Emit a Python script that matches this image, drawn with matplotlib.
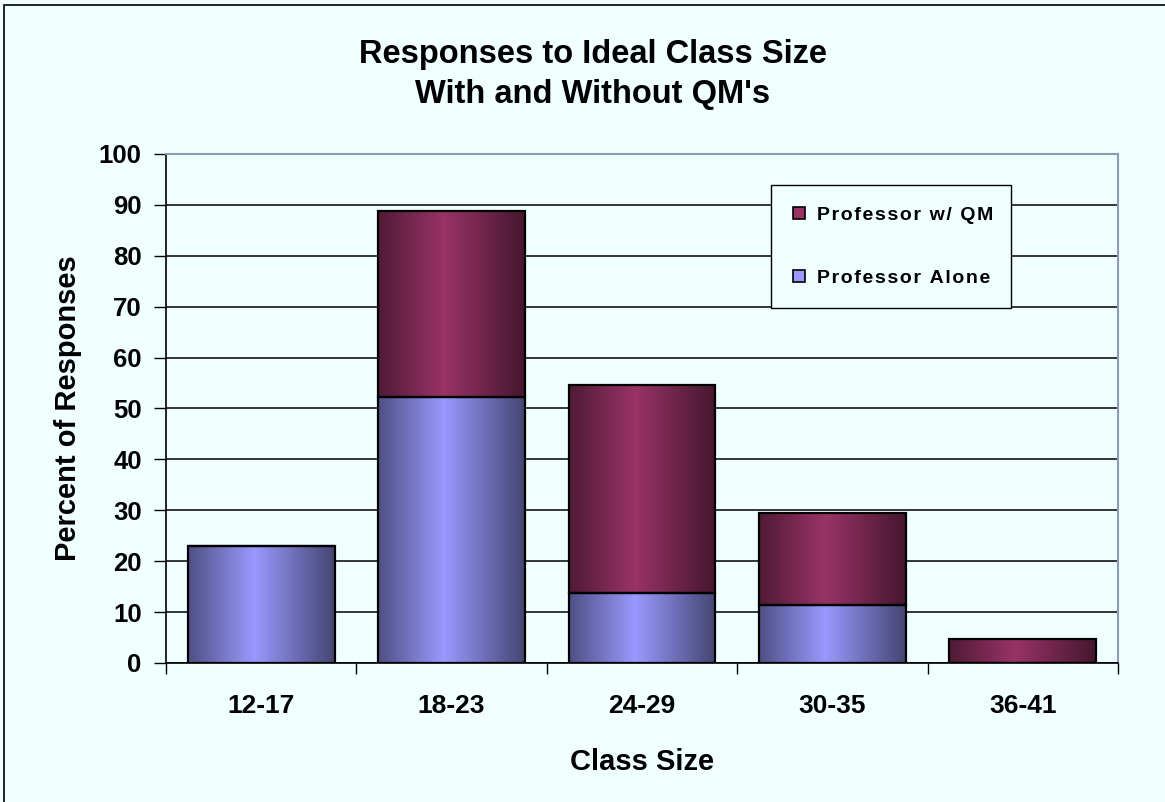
import matplotlib
matplotlib.use("Agg")
import matplotlib.pyplot as plt
from matplotlib.patches import Patch, Rectangle
from matplotlib.colors import to_rgb
import numpy as np

categories = ["12-17", "18-23", "24-29", "30-35", "36-41"]
prof_alone = [22.9, 52.2, 13.8, 11.4, 0.0]
prof_qm = [0.0, 36.6, 40.8, 18.1, 4.7]
legend_labels = ["Professor w/ QM", "Professor Alone"]

ALONE_C = "#9999FF"
QM_C = "#993366"
BG = "#F0FFFF"

plt.rcParams["font.family"] = ["Liberation Sans", "DejaVu Sans"]
plt.rcParams["font.weight"] = "bold"

fig = plt.figure(figsize=(11.65, 8.02), dpi=100, facecolor=BG)
# outer chart border (left/top visible, rest runs off the image)
fig.patches.append(Rectangle((4 / 1165, -0.1), 1.2, 1 - 5 / 802 + 0.1,
                             transform=fig.transFigure, fill=False,
                             edgecolor="black", lw=1.2))

ax = fig.add_axes([166 / 1165, 1 - 663 / 802, 952 / 1165, 509 / 802])
ax.set_facecolor(BG)


def shade(color, n=256):
    t = np.linspace(0, 1, n)
    f = np.interp(t, [0, 0.45, 1], [0.52, 1.0, 0.45])
    rgb = np.array(to_rgb(color))
    return (f[:, None] * rgb[None, :])[None, :, :]


x = np.arange(len(categories))
w = 0.77
b1 = ax.bar(x, prof_alone, w, facecolor="none", edgecolor="black", lw=1.6, zorder=4)
b2 = ax.bar(x, prof_qm, w, bottom=prof_alone, facecolor="none", edgecolor="black",
            lw=1.6, zorder=4)
for bars, col in ((b1, ALONE_C), (b2, QM_C)):
    for p in bars:
        if p.get_height() <= 0:
            continue
        x0, y0 = p.get_x(), p.get_y()
        ax.imshow(shade(col), extent=(x0, x0 + p.get_width(), y0, y0 + p.get_height()),
                  aspect="auto", zorder=3, interpolation="bilinear")

ax.set_xlim(-0.5, len(categories) - 0.5)
ax.set_ylim(0, 100)
ax.set_yticks(range(0, 101, 10))
ax.yaxis.grid(True, color="black", lw=1.1, zorder=1)
ax.set_axisbelow(True)
ax.tick_params(axis="y", length=9, width=1, pad=8.5, labelsize=18.5)

ax.set_xticks(np.arange(-0.5, len(categories), 1.0))
ax.set_xticklabels([])
ax.set_xticks(x, minor=True)
ax.set_xticklabels(categories, minor=True)
ax.tick_params(axis="x", which="major", length=8, width=1, direction="out")
ax.tick_params(axis="x", which="minor", length=0, pad=22, labelsize=19)

for s in ("top", "right"):
    ax.spines[s].set_color("#8C9CB4")
    ax.spines[s].set_linewidth(1.5)
for s in ("left", "bottom"):
    ax.spines[s].set_color("black")
    ax.spines[s].set_linewidth(1.2)

ax.set_xlabel("Class Size", fontsize=21, fontweight="bold", labelpad=22)
ax.set_ylabel("Percent of Responses", fontsize=21, fontweight="bold", labelpad=12)

fig.text(593 / 1165, 1 - 55 / 802, "Responses to Ideal Class Size", ha="center",
         va="center", fontsize=23.5, fontweight="bold")
fig.text(593 / 1165, 1 - 95 / 802, "With and Without QM's", ha="center",
         va="center", fontsize=23.5, fontweight="bold")

# legend text is letter-spaced in the original
spaced = ["\u200a".join(s) for s in legend_labels]
handles = [Patch(facecolor=QM_C, edgecolor="black", lw=1.2),
           Patch(facecolor=ALONE_C, edgecolor="black", lw=1.2)]
leg = ax.legend(handles, spaced,
                bbox_to_anchor=(0.636, 0.70, 0.252, 0.2385), loc="upper left",
                mode="expand", fontsize=14, frameon=True, fancybox=False,
                edgecolor="black", facecolor=BG, framealpha=1,
                handlelength=0.62, handleheight=0.62, handletextpad=0.6,
                labelspacing=2.35, borderpad=1.1, borderaxespad=0)
leg.get_frame().set_linewidth(1.0)
leg.set_zorder(6)

fig.savefig("out.png", dpi=100, facecolor=BG)
